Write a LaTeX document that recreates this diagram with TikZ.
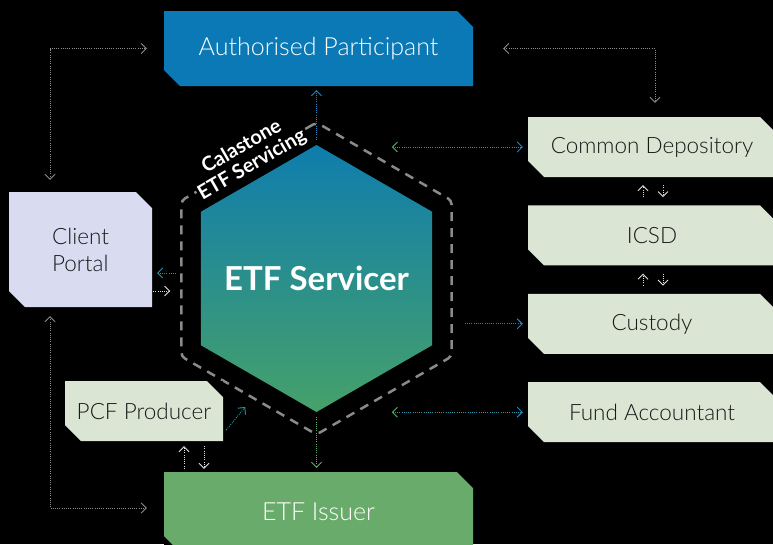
\documentclass[tikz,border=0pt]{standalone}
\usepackage{fontspec}
\setmainfont{Lato}[UprightFont=* Light, BoldFont=* Bold]
\usepackage{tikz}
\usetikzlibrary{arrows.meta,shapes}
\usetikzlibrary{positioning}
\usetikzlibrary{calc}
\definecolor{apblue}{HTML}{0A79B6}
\definecolor{paleg}{HTML}{DAE5D3}
\definecolor{lilac}{HTML}{D9DCF1}
\definecolor{issgreen}{HTML}{69AB6A}
\definecolor{hextop}{HTML}{0F7DAD}
\definecolor{hexbot}{HTML}{46A16A}
\definecolor{ringgray}{HTML}{8A8A8A}
\definecolor{wiregray}{HTML}{8E8E8E}
\definecolor{wirewhite}{HTML}{E2E2E2}
\definecolor{wireblue}{HTML}{1E88C4}
\definecolor{wiregreen}{HTML}{5CB068}
\definecolor{wireteal}{HTML}{2A94A8}
\tikzset{
	% cut corners: top right and bottom left
	cut/.style={fill=black, inner sep=0pt, path picture={
		\fill[#1] ([xshift=-16pt]path picture bounding box.north east) -- ([yshift=-16pt]path picture bounding box.north east)
			-- (path picture bounding box.south east) -- ([xshift=16pt]path picture bounding box.south west)
			-- ([yshift=16pt]path picture bounding box.south west) -- (path picture bounding box.north west) -- cycle;}},
	box/.style={cut=paleg, minimum height=60pt, text=black!90, font=\fontsize{22.5}{27}\selectfont},
	hexa/.style={regular polygon, regular polygon sides=6, shape border rotate=30, inner sep=0pt},
	wire/.style={draw=#1, line width=0.9pt, dash pattern=on 1pt off 1.2pt},
	>={Straight Barb[length=5pt,width=10pt]},
	Gtip/.tip={Straight Barb[length=5pt,width=10pt,color=wiregreen]},
	Btip/.tip={Straight Barb[length=5pt,width=10pt,color=wireblue]},
}
\begin{document}
\begin{tikzpicture}[x=1pt, y=-1pt]
	\useasboundingbox (0,0) rectangle (773,544);
	\fill[black] (0,0) rectangle (773,544);
	\node[hexa, minimum size=267pt, top color=hextop, bottom color=hexbot] (srv) at (316.5,278.5) {};
	\node[text=white, font=\bfseries\fontsize{33}{38}\selectfont] (srvtext) at (srv) {ETF Servicer};
	\node[hexa, minimum size=312pt, draw=ringgray, line width=2.5pt, rounded corners=4pt, dash pattern=on 9pt off 7pt] (ring) at (srv) {};
	\node[rotate=30, fill=black, text=white, align=center, inner sep=1pt, font=\bfseries\fontsize{20}{21}\selectfont] (tag) at (247,156) {Calastone\\ETF Servicing};
	\node[box, cut=apblue, minimum width=309pt, minimum height=75pt, text=white, font=\fontsize{25}{30}\selectfont] (ap) at (318.5,48.5) {Authorised Participant};
	\node[box, minimum width=248pt] (cd) at (652,147) {Common Depository};
	\node[box, minimum width=248pt, below=28pt of cd] (icsd) {ICSD};
	\node[box, minimum width=248pt, below=28pt of icsd] (cus) {Custody};
	\node[box, minimum width=248pt, below=28pt of cus] (fa) {Fund Accountant};
	\node[box, cut=lilac, minimum width=143pt, minimum height=115pt, align=left] (cp) at (80.5,249.5) {Client\\Portal};
	\node[box, minimum width=158pt] (pcf) at (144,411) {PCF Producer};
	\node[box, cut=issgreen, minimum width=309pt, minimum height=80pt, text=white, font=\fontsize{25}{30}\selectfont] (iss) at (318.5,512) {ETF Issuer};
	\draw[wire=wiregray, <->, shorten <=12pt, shorten >=17pt] ([xshift=-30.5pt]cp.north) |- (ap.west);
	\draw[wire=wiregray, <->, shorten <=30pt, shorten >=14pt] (ap.east) -| ([xshift=3pt]cd.north);
	\draw[wire=wiregray, <->, shorten <=9pt, shorten >=17pt] ([xshift=-30.5pt]cp.south) |- ([yshift=4pt]iss.west);
	\draw[wire=wireblue, ->, shorten <=5pt, shorten >=4pt] (srv.90) -- (srv.90 |- ap.south);
	\draw[wire=wiregreen, ->, shorten <=5pt, shorten >=4pt] (srv.270) -- (srv.270 |- iss.north);
	\draw[wire=wireteal, Gtip-Btip] ([xshift=-136pt]cd.west) -- ([xshift=-5pt]cd.west);
	\draw[wire=wireteal, Gtip-Btip] ([xshift=-136pt]fa.west) -- ([xshift=-5pt]fa.west);
	\draw[wire=wireblue, ->] ([xshift=-63pt]cus.west) -- ([xshift=-5pt]cus.west);
	\draw[wire=wirewhite, ->, shorten <=8pt, shorten >=8pt] ([xshift=-9pt]icsd.north) -- ([xshift=-9pt]cd.south);
	\draw[wire=wirewhite, ->, shorten <=8pt, shorten >=8pt] ([xshift=11pt]cd.south) -- ([xshift=11pt]icsd.north);
	\draw[wire=wirewhite, ->, shorten <=8pt, shorten >=8pt] ([xshift=-9pt]cus.north) -- ([xshift=-9pt]icsd.south);
	\draw[wire=wirewhite, ->, shorten <=8pt, shorten >=8pt] ([xshift=11pt]icsd.south) -- ([xshift=11pt]cus.north);
	\draw[wire=wireteal, ->] ([xshift=24pt, yshift=-23.5pt]cp.east) -- ([xshift=5pt, yshift=-23.5pt]cp.east);
	\draw[wire=wirewhite, ->] ([xshift=1pt, yshift=-41.5pt]cp.east) -- ([xshift=18pt, yshift=-41.5pt]cp.east);
	\draw[wire=wireteal, ->] ([xshift=3pt, yshift=-19pt]pcf.east) -- ([xshift=22pt, yshift=4pt]pcf.east);
	\draw[wire=wirewhite, ->, shorten <=3pt, shorten >=5pt] ([xshift=40pt]pcf.south |- iss.north) -- ([xshift=40pt]pcf.south);
	\draw[wire=wirewhite, ->, shorten <=5pt, shorten >=3pt] ([xshift=60pt]pcf.south) -- ([xshift=60pt]pcf.south |- iss.north);
\end{tikzpicture}
\end{document}
